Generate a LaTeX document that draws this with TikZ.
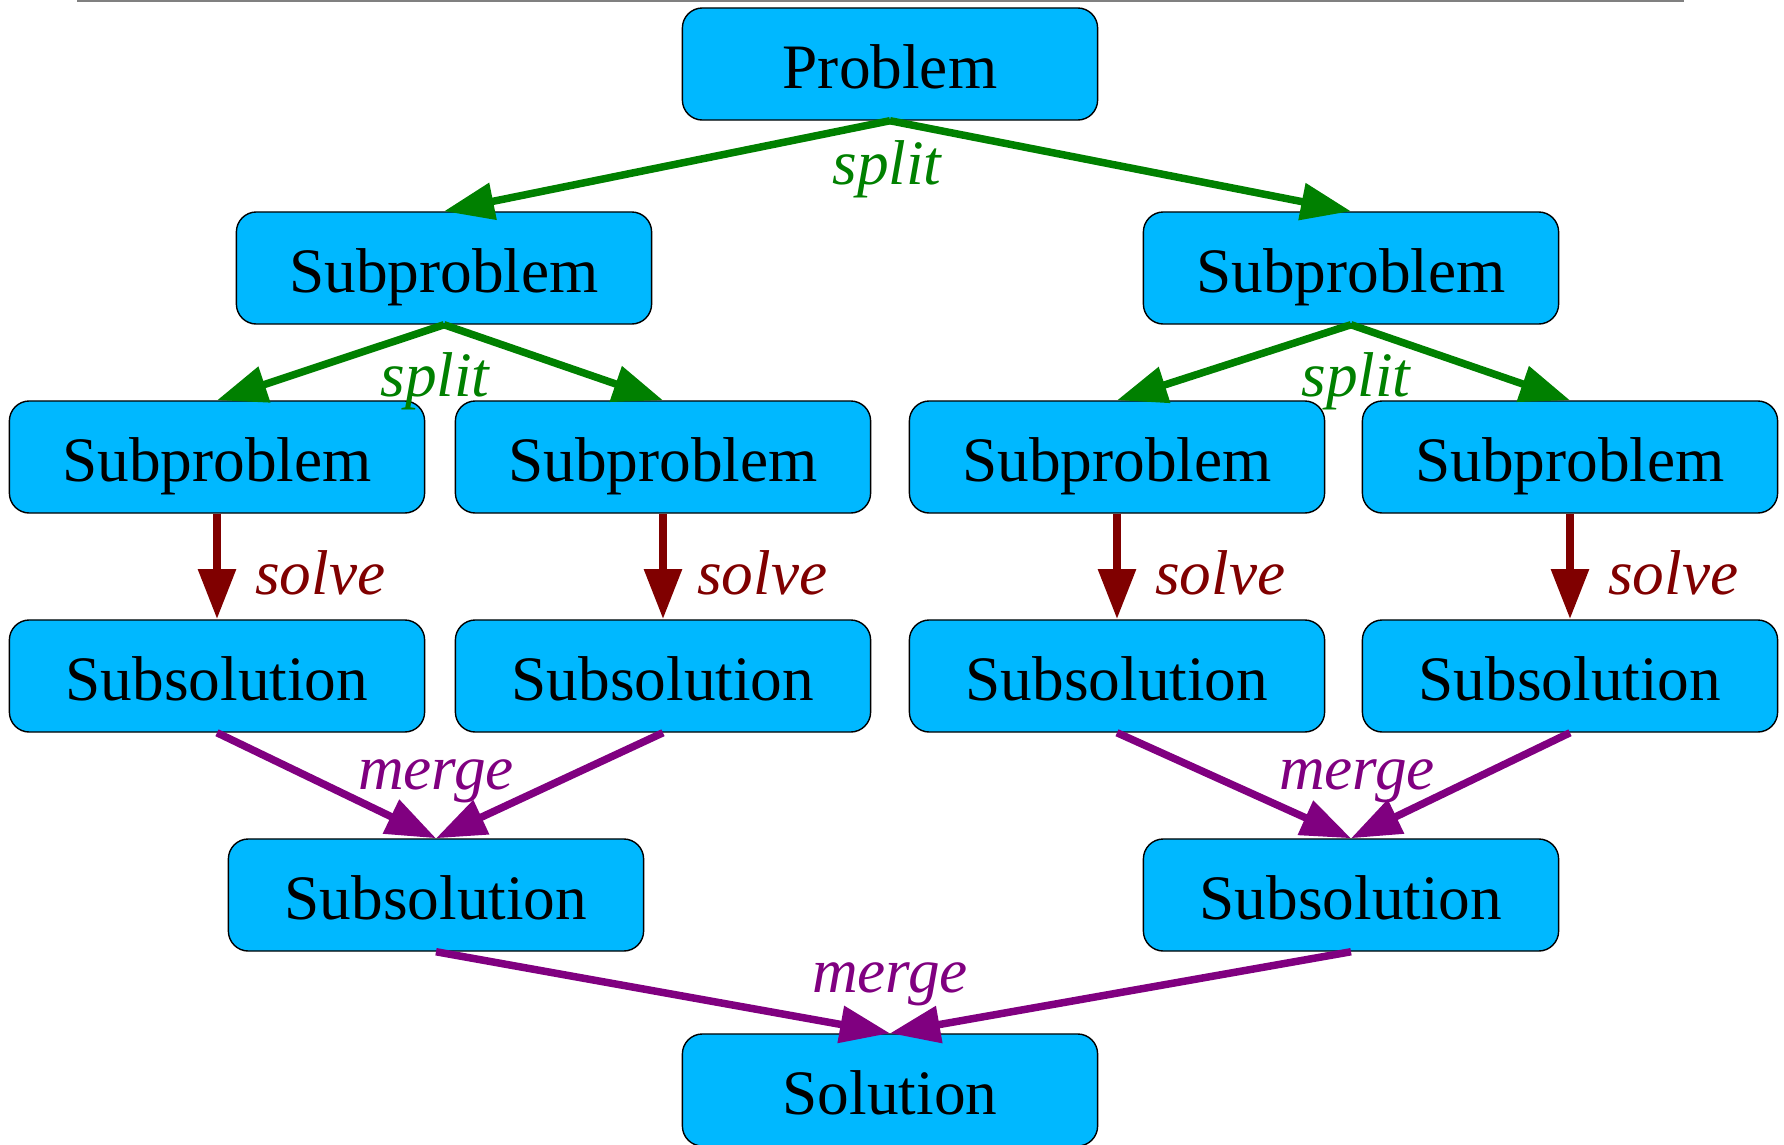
\documentclass[tikz,border=0pt]{standalone}
\usepackage{fontspec}
\setmainfont{Liberation Serif}
\usepackage{xcolor}
\usetikzlibrary{arrows.meta}

\definecolor{boxblue}{RGB}{0,184,255}
\definecolor{splitgreen}{RGB}{0,128,0}
\definecolor{solvered}{RGB}{128,0,0}
\definecolor{mergepurple}{RGB}{128,0,128}

\begin{document}
\begin{tikzpicture}[x=0.01cm, y=-0.01cm,
    box/.style={draw, thin, rounded corners=0.2cm, fill=boxblue, minimum width=4.15cm, minimum height=1.12cm, inner sep=0pt, text height=14pt, text depth=0pt, font=\fontsize{18}{20}\selectfont},
    arrow/.style={-{Triangle[length=0.5cm, width=0.36cm]}, line width=0.075cm},
    splitarrow/.style={arrow, draw=splitgreen, fill=splitgreen},
    solvearrow/.style={arrow, draw=solvered, fill=solvered, line width=0.085cm},
    mergearrow/.style={arrow, draw=mergepurple, fill=mergepurple},
    steplabel/.style={inner sep=0pt, font=\itshape\fontsize{18}{20}\selectfont}
]
    \useasboundingbox (0,0) rectangle (1784,1145);

    % Top rule
    \draw[gray, line width=0.025cm] (77,1) -- (1684,1);

    % Problem
    \node[box] (problem) at (890,64) {Problem};

    % First split
    \node[box] (subl) at (444,268) {Subproblem};
    \node[box] (subr) at (1351,268) {Subproblem};

    % Second split
    \node[box] (subll) at (217,457) {Subproblem};
    \node[box] (sublr) at (663,457) {Subproblem};
    \node[box] (subrl) at (1117,457) {Subproblem};
    \node[box] (subrr) at (1570,457) {Subproblem};

    % Solved parts
    \node[box] (solll) at (217,676) {Subsolution};
    \node[box] (sollr) at (663,676) {Subsolution};
    \node[box] (solrl) at (1117,676) {Subsolution};
    \node[box] (solrr) at (1570,676) {Subsolution};

    % Merged parts
    \node[box] (soll) at (436,895) {Subsolution};
    \node[box] (solr) at (1351,895) {Subsolution};

    % Solution
    \node[box] (solution) at (890,1090) {Solution};

    % Split arrows
    \draw[splitarrow] (problem.south) -- (subl.north);
    \draw[splitarrow] (problem.south) -- (subr.north);
    \node[steplabel, text=splitgreen] (splittop) at (887,169) {split};
    \draw[splitarrow] (subl.south) -- (subll.north);
    \draw[splitarrow] (subl.south) -- (sublr.north);
    \node[steplabel, text=splitgreen] (splitl) at (435,381) {split};
    \draw[splitarrow] (subr.south) -- (subrl.north);
    \draw[splitarrow] (subr.south) -- (subrr.north);
    \node[steplabel, text=splitgreen] (splitr) at (1356,381) {split};

    % Solve arrows
    \draw[solvearrow] (subll) -- node[steplabel, text=solvered, anchor=west, xshift=0.34cm, yshift=-0.06cm] (solvell) {solve} (solll);
    \draw[solvearrow] (sublr) -- node[steplabel, text=solvered, anchor=west, xshift=0.3cm, yshift=-0.06cm] (solvelr) {solve} (sollr);
    \draw[solvearrow] (subrl) -- node[steplabel, text=solvered, anchor=west, xshift=0.34cm, yshift=-0.06cm] (solverl) {solve} (solrl);
    \draw[solvearrow] (subrr) -- node[steplabel, text=solvered, anchor=west, xshift=0.34cm, yshift=-0.06cm] (solverr) {solve} (solrr);

    % Merge arrows
    \draw[mergearrow] (solll.south) -- (soll.north);
    \draw[mergearrow] (sollr.south) -- (soll.north);
    \node[steplabel, text=mergepurple] (mergel) at (436,781) {merge};
    \draw[mergearrow] (solrl.south) -- (solr.north);
    \draw[mergearrow] (solrr.south) -- (solr.north);
    \node[steplabel, text=mergepurple] (merger) at (1357,781) {merge};
    \draw[mergearrow] (soll.south) -- (solution.north);
    \draw[mergearrow] (solr.south) -- (solution.north);
    \node[steplabel, text=mergepurple] (mergebottom) at (890,984) {merge};
\end{tikzpicture}
\end{document}
